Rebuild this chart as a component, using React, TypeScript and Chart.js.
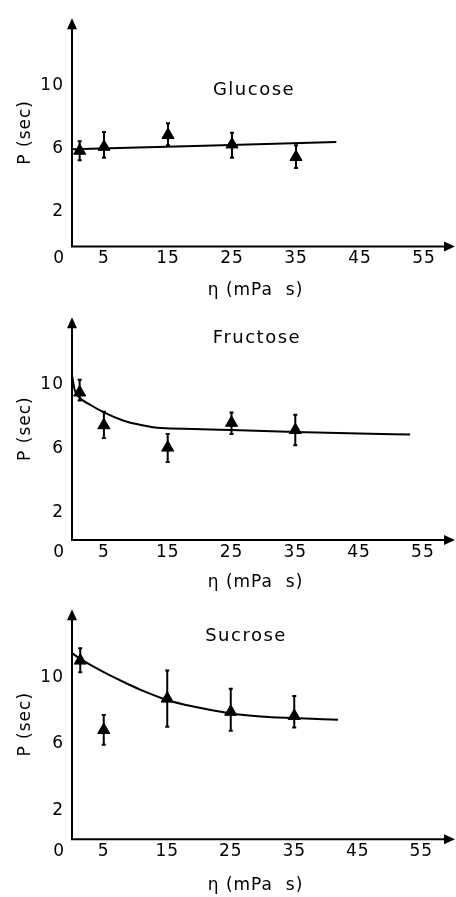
import React, { useEffect, useRef } from 'react';
import { Chart, registerables } from 'chart.js';

Chart.register(...registerables);

// ---- data ----
const xTicks = [0, 5, 15, 25, 35, 45, 55];
const yTicks = [2, 6, 10];

const glucoseX = [1.2, 5, 15, 25, 35];
const glucoseP = [5.85, 6.1, 6.85, 6.25, 5.45];
const glucoseLow = [5.25, 5.4, 6.2, 5.4, 4.75];
const glucoseHigh = [6.45, 7.05, 7.6, 7.0, 6.2];
const glucoseFitX = [0, 41.3];
const glucoseFitP = [5.95, 6.4];

const fructoseX = [1.2, 5, 15, 25, 35];
const fructoseP = [9.5, 7.45, 6.05, 7.6, 7.15];
const fructoseLow = [9.0, 6.65, 5.15, 6.9, 6.2];
const fructoseHigh = [10.3, 8.3, 6.9, 8.25, 8.1];
const fructoseFitX = [0, 0.4, 1, 3, 5, 8, 11, 14, 19, 25, 35, 45, 53];
const fructoseFitP = [10.6, 9.7, 9.25, 8.7, 8.25, 7.75, 7.45, 7.27, 7.22, 7.15, 7.03, 6.93, 6.87];

const sucroseX = [1.3, 5, 15, 25, 35];
const sucroseP = [11.05, 6.85, 8.75, 7.95, 7.7];
const sucroseLow = [10.35, 5.95, 7.05, 6.8, 7.0];
const sucroseHigh = [11.8, 7.75, 10.45, 9.35, 8.9];
const sucroseFitX = [0, 1.3, 5, 8.7, 11.3, 14.7, 19.1, 24.8, 29.7, 34.9, 41.9];
const sucroseFitP = [11.5, 11.15, 10.35, 9.65, 9.2, 8.7, 8.27, 7.87, 7.67, 7.57, 7.47];

const FONT = '"DejaVu Sans", sans-serif';

type PanelDef = {
  name: string;
  xs: number[]; ps: number[]; low: number[]; high: number[];
  fitX: number[]; fitP: number[];
  top: number; height: number; tip: number; axis: number;
  yMin: number; yMax: number; ppu: number;
  labelX: number; labelY: number;
};

const panels: PanelDef[] = [
  {
    name: 'Glucose', xs: glucoseX, ps: glucoseP, low: glucoseLow, high: glucoseHigh,
    fitX: glucoseFitX, fitP: glucoseFitP,
    top: 0, height: 299, tip: 15, axis: 246.5, yMin: -0.24, yMax: 14.28, ppu: 6.4,
    labelX: 254, labelY: 90,
  },
  {
    name: 'Fructose', xs: fructoseX, ps: fructoseP, low: fructoseLow, high: fructoseHigh,
    fitX: fructoseFitX, fitP: fructoseFitP,
    top: 299, height: 292, tip: 6, axis: 241, yMin: 0.27, yMax: 14.21, ppu: 6.38,
    labelX: 257, labelY: 39,
  },
  {
    name: 'Sucrose', xs: sucroseX, ps: sucroseP, low: sucroseLow, high: sucroseHigh,
    fitX: sucroseFitX, fitP: sucroseFitP,
    top: 591, height: 303, tip: 17, axis: 248.3, yMin: 0.235, yMax: 14.16, ppu: 6.35,
    labelX: 246, labelY: 45,
  },
];

const LEFT = 72;
const RIGHT_PAD = 17;
const W = 456;

const decorPlugin = {
  id: 'decor',
  beforeDraw(chart: any) {
    chart.ctx.letterSpacing = '1px';
  },
  beforeDatasetsDraw(chart: any, _args: any, opts: any) {
    const p: PanelDef = opts.panel;
    const { ctx, chartArea, scales } = chart;
    const x = scales.x;
    const y = scales.y;
    ctx.save();
    ctx.strokeStyle = '#000';
    ctx.fillStyle = '#000';
    ctx.lineWidth = 2;
    const x0 = x.getPixelForValue(0);
    const yb = chartArea.bottom;
    const xTip = W - 1;
    const yTip = chartArea.top;
    ctx.beginPath();
    ctx.moveTo(x0 - 1, yb);
    ctx.lineTo(xTip - 8, yb);
    ctx.moveTo(x0, yb + 1);
    ctx.lineTo(x0, yTip + 8);
    ctx.stroke();
    ctx.beginPath();
    ctx.moveTo(xTip, yb);
    ctx.lineTo(xTip - 11, yb - 5);
    ctx.lineTo(xTip - 11, yb + 5);
    ctx.closePath();
    ctx.fill();
    ctx.beginPath();
    ctx.moveTo(x0, yTip);
    ctx.lineTo(x0 - 5, yTip + 11);
    ctx.lineTo(x0 + 5, yTip + 11);
    ctx.closePath();
    ctx.fill();
    // error bars
    p.xs.forEach((xv, i) => {
      const px = x.getPixelForValue(xv);
      const lo = y.getPixelForValue(p.low[i]);
      const hi = y.getPixelForValue(p.high[i]);
      ctx.beginPath();
      ctx.moveTo(px, lo);
      ctx.lineTo(px, hi);
      ctx.moveTo(px - 2, lo);
      ctx.lineTo(px + 2, lo);
      ctx.moveTo(px - 2, hi);
      ctx.lineTo(px + 2, hi);
      ctx.stroke();
    });
    // sugar name
    ctx.font = '18px ' + FONT;
    ctx.letterSpacing = '1.5px';
    ctx.textAlign = 'center';
    ctx.textBaseline = 'middle';
    ctx.fillText(p.name, p.labelX, p.labelY);
    ctx.restore();
  },
};

function Panel({ p }: { p: PanelDef }) {
  const ref = useRef<HTMLCanvasElement | null>(null);
  useEffect(() => {
    if (!ref.current) return;
    const xMax = (W - RIGHT_PAD - LEFT) / p.ppu;
    const chart = new Chart(ref.current, {
      type: 'scatter',
      data: {
        datasets: [
          {
            label: p.name,
            data: p.xs.map((v, i) => ({ x: v, y: p.ps[i] })),
            pointStyle: 'triangle',
            pointRadius: 7,
            backgroundColor: '#000',
            borderColor: '#000',
            borderWidth: 1,
            clip: false,
          } as any,
          {
            label: 'fit',
            data: p.fitX.map((v, i) => ({ x: v, y: p.fitP[i] })),
            showLine: true,
            pointRadius: 0,
            borderColor: '#000',
            borderWidth: 2,
            cubicInterpolationMode: 'monotone',
            clip: false,
          } as any,
        ],
      },
      options: {
        animation: false,
        responsive: false,
        events: [],
        layout: { padding: { top: p.tip, right: RIGHT_PAD, left: 0, bottom: 0 } },
        plugins: {
          legend: { display: false },
          tooltip: { enabled: false },
          decor: { panel: p },
        } as any,
        scales: {
          x: {
            type: 'linear',
            min: 0,
            max: xMax,
            bounds: 'data',
            grid: { display: false, drawTicks: false },
            border: { display: false },
            afterBuildTicks: (s: any) => { s.ticks = xTicks.map((v) => ({ value: v })); },
            afterFit: (s: any) => { s.height = p.height - p.axis; },
            ticks: {
              autoSkip: false,
              maxRotation: 0,
              minRotation: 0,
              padding: 2,
              color: '#000',
              font: { family: FONT, size: 17 },
              callback: (v: any) => (Number(v) === 0 ? '0    ' : String(v)),
            },
            title: {
              display: true,
              text: 'η (mPa  s)',
              color: '#000',
              font: { family: FONT, size: 17, lineHeight: 1 },
              padding: 0,
            },
          },
          y: {
            type: 'linear',
            min: p.yMin,
            max: p.yMax,
            bounds: 'data',
            grid: { display: false, drawTicks: false },
            border: { display: false },
            afterBuildTicks: (s: any) => { s.ticks = yTicks.map((v) => ({ value: v })); },
            afterFit: (s: any) => { s.width = LEFT; },
            ticks: {
              padding: 8,
              color: '#000',
              font: { family: FONT, size: 17 },
            },
            title: {
              display: true,
              text: 'P (sec)',
              color: '#000',
              font: { family: FONT, size: 17, lineHeight: 1 },
              padding: { top: 17, bottom: 0 },
            },
          },
        },
      } as any,
      plugins: [decorPlugin],
    });
    return () => chart.destroy();
  }, [p]);
  return (
    <canvas
      ref={ref}
      width={W}
      height={p.height}
      style={{ position: 'absolute', left: 0, top: p.top, width: W, height: p.height }}
    />
  );
}

export default function App() {
  return (
    <div style={{ position: 'absolute', left: 0, top: 0, width: W, height: 897, background: '#fff' }}>
      {panels.map((p) => (
        <Panel key={p.name} p={p} />
      ))}
    </div>
  );
}
